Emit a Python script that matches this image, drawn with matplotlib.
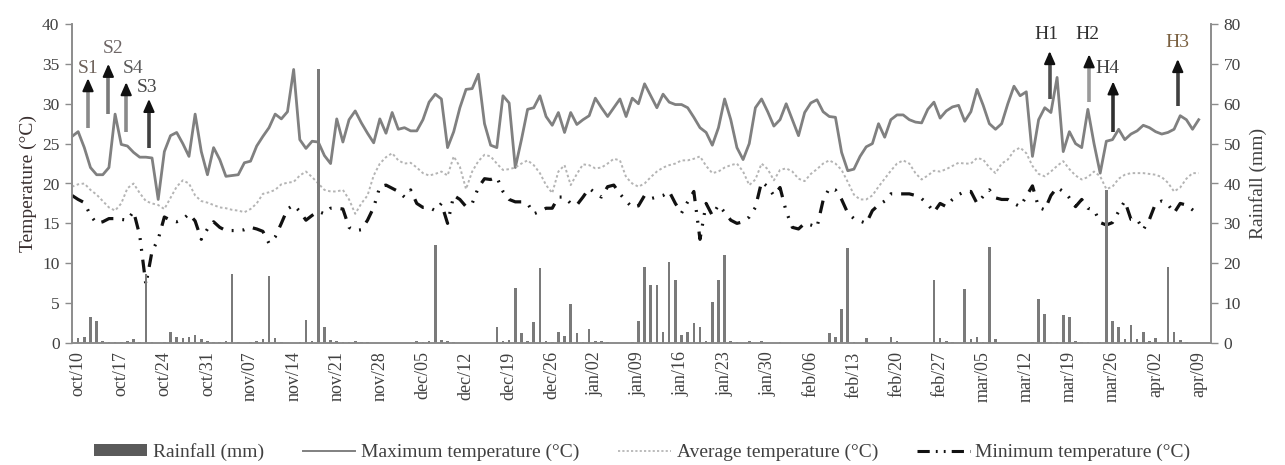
import matplotlib
matplotlib.use('Agg')
import matplotlib.pyplot as plt
import numpy as np
from matplotlib.lines import Line2D
from matplotlib.patches import Patch

plt.rcParams['font.family'] = ['Liberation Serif', 'DejaVu Serif']

# ---------------- data (daily, oct/09 ... apr/09) ----------------
tick_labels = ['oct/10', 'oct/17', 'oct/24', 'oct/31', 'nov/07', 'nov/14', 'nov/21',
               'nov/28', 'dec/05', 'dec/12', 'dec/19', 'dec/26', 'jan/02', 'jan/09',
               'jan/16', 'jan/23', 'jan/30', 'feb/06', 'feb/13', 'feb/20', 'feb/27',
               'mar/05', 'mar/12', 'mar/19', 'mar/26', 'apr/02', 'apr/09']

tmax = [25.9, 26.5, 24.5, 22.0, 21.1, 21.1, 22.0, 28.7, 24.9, 24.7,
        23.9, 23.3, 23.3, 23.2, 18.0, 24.0, 26.0, 26.4, 25.0, 23.4,
        28.7, 24.0, 21.1, 24.5, 23.0, 20.9, 21.0, 21.1, 22.6, 22.8,
        24.7, 25.9, 27.0, 28.7, 28.1, 29.0, 34.3, 25.5, 24.4, 25.3,
        25.2, 23.5, 22.5, 28.1, 25.2, 28.0, 29.1, 27.6, 26.3, 25.1,
        28.1, 26.3, 28.9, 26.8, 27.0, 26.6, 26.6, 28.0, 30.2, 31.2,
        30.6, 24.5, 26.5, 29.5, 31.8, 31.9, 33.7, 27.5, 24.8, 24.5,
        31.0, 30.1, 22.0, 25.5, 29.3, 29.5, 31.0, 28.4, 27.3, 28.9,
        26.4, 28.9, 27.4, 28.0, 28.5, 30.7, 29.5, 28.4, 29.5, 30.6,
        28.4, 30.7, 30.0, 32.5, 31.0, 29.5, 31.2, 30.2, 29.9, 29.9,
        29.5, 28.3, 27.0, 26.4, 24.8, 27.0, 30.6, 28.0, 24.5, 23.0,
        25.0, 29.5, 30.6, 29.0, 27.2, 28.0, 30.0, 28.0, 26.0, 28.9,
        30.1, 30.5, 29.0, 28.4, 28.3, 23.9, 21.6, 21.8, 23.4, 24.6,
        25.0, 27.5, 25.8, 28.0, 28.6, 28.6, 28.0, 27.7, 27.6, 29.3,
        30.2, 28.2, 29.1, 29.6, 29.8, 27.8, 29.0, 31.8, 29.8, 27.5,
        26.8, 27.5, 30.0, 32.2, 31.0, 31.5, 23.4, 28.0, 29.5, 28.9,
        33.3, 24.0, 26.5, 25.0, 24.5, 29.3, 25.0, 21.3, 25.3, 25.5,
        26.8, 25.5, 26.2, 26.6, 27.3, 27.0, 26.5, 26.2, 26.4, 26.8,
        28.5, 28.0, 26.8, 28.0]

tavg = [19.6, 19.9, 20.0, 19.2, 18.6, 17.8, 17.0, 16.6, 17.5, 19.4,
        20.0, 18.8, 17.8, 17.5, 17.3, 16.8, 18.2, 19.6, 20.4, 20.0,
        18.5, 17.8, 17.6, 17.3, 17.0, 16.9, 16.7, 16.6, 16.4, 16.8,
        17.5, 18.7, 18.9, 19.2, 19.9, 20.1, 20.2, 21.0, 21.5, 20.8,
        20.0, 19.2, 19.0, 19.0, 19.2, 18.0, 16.2, 17.5, 18.5, 21.0,
        22.5, 23.3, 23.8, 22.9, 22.5, 22.6, 22.0, 21.3, 21.0, 21.2,
        21.5, 21.0, 23.4, 22.1, 19.3, 21.5, 22.8, 23.6, 23.4, 22.5,
        21.7, 21.8, 22.0, 22.5, 22.9, 22.3, 21.3, 19.8, 18.8, 21.5,
        22.3, 19.8, 21.2, 22.4, 22.3, 21.9, 22.0, 22.5, 23.1, 22.9,
        20.8, 20.0, 19.6, 20.0, 20.8, 21.5, 22.0, 22.3, 22.5, 22.9,
        22.9, 23.1, 23.4, 22.2, 21.3, 21.5, 22.0, 22.3, 22.5, 21.5,
        19.8, 20.5, 22.5, 21.8, 20.4, 21.7, 21.9, 21.5, 20.6, 20.3,
        21.2, 21.8, 22.5, 22.9, 22.5, 21.7, 20.2, 18.6, 18.0, 18.0,
        18.5, 19.6, 20.6, 21.6, 22.5, 22.9, 22.5, 21.3, 20.5, 21.0,
        21.6, 21.5, 21.8, 22.2, 22.6, 22.5, 22.5, 23.2, 23.0, 22.0,
        21.3, 22.5, 23.0, 24.1, 24.5, 23.8, 22.2, 21.2, 20.9, 21.5,
        22.2, 22.8, 21.8, 21.0, 20.5, 20.8, 21.5, 20.9, 19.3, 19.6,
        20.6, 21.1, 21.3, 21.3, 21.3, 21.2, 21.1, 20.8, 20.1, 19.0,
        19.5, 20.6, 21.3, 21.3]

tmin = [18.5, 18.0, 17.6, 16.0, 15.0, 15.2, 15.6, 15.6, 15.5, 15.4,
        16.5, 13.5, 7.3, 11.5, 13.0, 15.8, 15.4, 15.2, 15.5, 16.2,
        15.3, 13.0, 14.3, 15.2, 14.5, 14.1, 14.1, 14.1, 14.2, 14.5,
        14.3, 14.0, 12.5, 13.3, 15.0, 16.8, 17.3, 16.5, 15.4, 16.0,
        16.5, 16.2, 16.9, 16.9, 16.8, 14.5, 14.1, 14.2, 15.4, 17.0,
        19.6, 19.8, 19.4, 19.0, 18.3, 19.2, 17.5, 17.0, 17.0, 16.6,
        17.5, 15.0, 18.5, 18.0, 17.1, 17.5, 19.5, 20.6, 20.5, 20.8,
        19.0, 18.0, 17.7, 17.7, 17.5, 16.2, 16.5, 16.9, 16.9, 18.3,
        18.3, 17.5, 17.3, 18.3, 19.4, 18.8, 18.3, 19.6, 19.8, 18.7,
        17.8, 17.0, 17.2, 18.5, 18.1, 18.3, 18.5, 19.0, 17.5, 16.3,
        17.7, 19.0, 13.0, 17.5, 16.0, 17.3, 16.4, 15.4, 15.0, 15.2,
        15.8, 17.0, 20.2, 19.6, 18.5, 19.5, 16.5, 14.5, 14.3, 15.0,
        14.8, 14.5, 17.9, 19.4, 19.2, 18.0, 16.3, 15.6, 15.3, 15.0,
        16.6, 17.3, 17.8, 18.7, 18.7, 18.7, 18.7, 18.5, 18.1, 17.4,
        16.4, 17.5, 17.1, 18.0, 18.6, 19.0, 19.0, 17.5, 18.4, 19.2,
        18.2, 18.0, 18.0, 17.5, 17.1, 18.4, 19.7, 17.0, 16.7, 18.5,
        19.5, 19.0, 18.2, 17.1, 18.0, 16.9, 16.7, 15.1, 14.8, 15.1,
        16.5, 17.8, 15.5, 15.5, 14.2, 15.5, 17.5, 17.8, 17.4, 16.3,
        17.5, 17.3, 16.7, 16.1]

rain = [1.0, 1.2, 1.5, 6.6, 5.5, 0.5, 0.3, 0.2, 0.3, 0.5,
        1.0, 0.3, 17.4, 0.2, 0.0, 0.3, 2.8, 1.5, 1.3, 1.5,
        2.0, 1.0, 0.5, 0.3, 0.2, 0.5, 17.3, 0.3, 0.0, 0.3,
        0.5, 1.0, 16.8, 1.2, 0.3, 0.0, 0.0, 0.2, 5.7, 0.5,
        68.8, 4.0, 0.8, 0.5, 0.3, 0.3, 0.5, 0.3, 0.2, 0.0,
        0.0, 0.0, 0.0, 0.0, 0.0, 0.0, 0.5, 0.3, 0.5, 24.6,
        0.8, 0.5, 0.2, 0.0, 0.0, 0.0, 0.0, 0.0, 0.0, 4.0,
        0.5, 0.8, 13.7, 2.4, 0.5, 5.3, 18.9, 0.5, 0.3, 2.8,
        1.8, 9.7, 2.4, 0.3, 3.6, 0.5, 0.6, 0.2, 0.0, 0.0,
        0.0, 0.3, 5.6, 19.0, 14.6, 14.6, 2.8, 20.3, 15.8, 2.0,
        2.8, 4.9, 4.1, 0.5, 10.3, 15.8, 22.0, 0.5, 0.3, 0.0,
        0.4, 0.0, 0.5, 0.0, 0.0, 0.2, 0.0, 0.0, 0.0, 0.0,
        0.0, 0.0, 0.0, 2.4, 1.6, 8.6, 23.7, 0.3, 0.0, 1.2,
        0.0, 0.0, 0.0, 1.6, 0.5, 0.0, 0.0, 0.0, 0.0, 0.0,
        15.7, 1.2, 0.5, 0.2, 0.0, 13.6, 1.0, 1.6, 0.3, 24.2,
        1.0, 0.0, 0.0, 0.0, 0.0, 0.0, 0.2, 11.1, 7.3, 0.3,
        0.2, 6.9, 6.5, 0.5, 0.2, 0.3, 0.0, 0.3, 38.3, 5.4,
        4.1, 1.0, 4.5, 1.0, 2.8, 0.5, 1.2, 0.3, 19.1, 2.8,
        0.8, 0.3, 0.0, 0.0]

# sampling stages: (label, day index, arrow tail, arrow tip, label x shift, label y,
#                   shaft colour, label colour)
stages = [('S1', 2.6, 27.0, 33.2, 0.0, 34.4, '#8a8a8a', '#6e625a'),
          ('S2', 5.9, 28.7, 35.0, 0.8, 36.9, '#7a7a7a', '#6e6666'),
          ('S4', 8.8, 26.4, 32.7, 1.1, 34.4, '#8a8a8a', '#5a5a5a'),
          ('S3', 12.5, 24.5, 30.6, -0.3, 32.1, '#404040', '#4a4a4a'),
          ('H1', 158.8, 30.6, 36.6, -0.6, 38.7, '#505050', '#303030'),
          ('H2', 165.2, 30.2, 36.2, -0.3, 38.7, '#9a9a9a', '#303030'),
          ('H4', 169.1, 26.4, 32.8, -1.0, 34.4, '#303030', '#404040'),
          ('H3', 179.6, 29.7, 35.6, 0.0, 37.7, '#404040', '#7a6040')]

# ---------------- figure ----------------
W, H = 1285, 465
fig = plt.figure(figsize=(W / 100, H / 100), dpi=100)
ax = fig.add_axes([72 / W, 1 - 343 / H, (1211 - 72) / W, (343 - 24) / H])
ax2 = ax.twinx()

days = np.arange(len(tmax))
tick_pos = np.arange(1, len(tmax), 7)

txt = '#404040'
spine_c = '#8c8c8c'
min_style = (0, (4.0, 2.8, 0.6, 2.8, 0.6, 2.8))

ax.plot(days, tmax, color='#808080', lw=2.0, solid_joinstyle='round', zorder=3)
ax.plot(days, tavg, color='#b4b4b4', lw=1.4, linestyle=(0, (1.3, 1.3)), zorder=3)
ax.plot(days, tmin, color='#111111', lw=2.3, linestyle=min_style, zorder=4)

ax2.bar(days, rain, width=0.42, color='#7a7a7a', zorder=2)

ax.set_xlim(0, 185)
ax.set_ylim(0, 40)
ax2.set_ylim(0, 80)
ax.set_yticks(np.arange(0, 41, 5))
ax2.set_yticks(np.arange(0, 81, 10))
ax.set_xticks(tick_pos)
ax.set_xticklabels(tick_labels, rotation=90, fontsize=13, color=txt)
ax.tick_params(axis='x', length=0, pad=6)
ax.tick_params(axis='y', direction='out', length=5, width=1, color=spine_c,
               labelsize=12.5, labelcolor=txt, pad=4)
ax2.tick_params(axis='y', direction='out', length=5, width=1, color=spine_c,
                labelsize=12.5, labelcolor=txt, pad=4)

for a in (ax, ax2):
    a.spines['top'].set_visible(False)
    for s in ('left', 'right', 'bottom'):
        a.spines[s].set_color(spine_c)
        a.spines[s].set_linewidth(1.2)

ax.set_ylabel('Temperature (°C)', fontsize=14, color='#3a3030', labelpad=4)
ax2.set_ylabel('Rainfall (mm)', fontsize=14, color=txt, rotation=90, labelpad=6)

# arrows
for name, k, tail, tip, dx, ly, sc, lc in stages:
    ax.plot([k, k], [tail, tip - 1.0], color=sc, lw=2.6, solid_capstyle='butt', zorder=6)
    ax.annotate('', xy=(k, tip), xytext=(k, tip - 1.3),
                arrowprops=dict(arrowstyle='-|>,head_width=0.33,head_length=0.75',
                                color='#111111', lw=1.5, shrinkA=0, shrinkB=0),
                zorder=7)
    ax.text(k + dx, ly, name, ha='center', va='center', fontsize=14, color=lc, zorder=7)

handles = [Patch(facecolor='#5a5a5a', edgecolor='none'),
           Line2D([], [], color='#808080', lw=1.4),
           Line2D([], [], color='#b0b0b0', lw=1.2, linestyle=(0, (1.3, 1.3))),
           Line2D([], [], color='#111111', lw=2.2, linestyle=(0, (4.0, 2.0, 0.6, 2.0, 0.6, 2.0)))]
labels = ['Rainfall (mm)', 'Maximum temperature (°C)', 'Average temperature (°C)',
          'Minimum temperature (°C)']
fig.legend(handles, labels, loc='center', bbox_to_anchor=(0.5, 1 - 452 / H), ncol=4,
           frameon=False, fontsize=14, handlelength=2.7, handleheight=0.55,
           columnspacing=2.0, handletextpad=0.3, labelcolor=txt)

fig.savefig('out.png', dpi=100)
